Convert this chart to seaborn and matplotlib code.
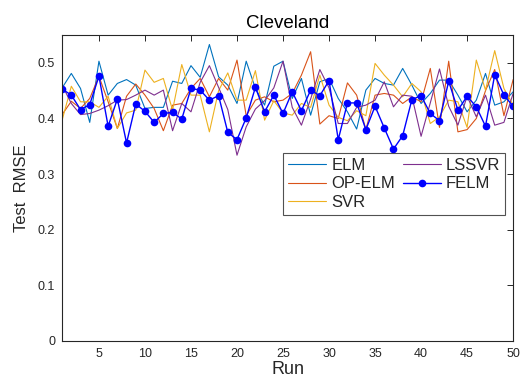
import numpy as np
import pandas as pd
import matplotlib
matplotlib.use("Agg")
import matplotlib.pyplot as plt
import seaborn as sns

runs = list(range(1, 51))

elm = [0.455, 0.481, 0.454, 0.393, 0.503, 0.442, 0.463, 0.470, 0.460, 0.418,
       0.420, 0.420, 0.467, 0.463, 0.495, 0.474, 0.533, 0.475, 0.460, 0.427,
       0.503, 0.454, 0.424, 0.494, 0.503, 0.436, 0.472, 0.406, 0.466, 0.472,
       0.436, 0.412, 0.381, 0.451, 0.472, 0.463, 0.460, 0.490, 0.460, 0.427,
       0.445, 0.469, 0.469, 0.442, 0.412, 0.433, 0.481, 0.424, 0.430, 0.448]

op_elm = [0.407, 0.431, 0.418, 0.436, 0.476, 0.430, 0.382, 0.440, 0.462, 0.442,
          0.418, 0.378, 0.424, 0.427, 0.454, 0.472, 0.439, 0.472, 0.451, 0.505,
          0.405, 0.433, 0.439, 0.430, 0.433, 0.445, 0.478, 0.520, 0.390, 0.405,
          0.400, 0.464, 0.442, 0.380, 0.442, 0.445, 0.442, 0.427, 0.439, 0.430,
          0.490, 0.384, 0.503, 0.376, 0.380, 0.400, 0.450, 0.488, 0.405, 0.470]

svr = [0.397, 0.458, 0.430, 0.430, 0.420, 0.440, 0.382, 0.410, 0.415, 0.487,
       0.465, 0.472, 0.415, 0.497, 0.442, 0.442, 0.376, 0.450, 0.482, 0.433,
       0.433, 0.486, 0.397, 0.432, 0.410, 0.406, 0.427, 0.420, 0.478, 0.424,
       0.402, 0.396, 0.414, 0.405, 0.499, 0.478, 0.460, 0.439, 0.463, 0.448,
       0.391, 0.403, 0.433, 0.430, 0.384, 0.505, 0.451, 0.522, 0.454, 0.424]

lssvr = [0.460, 0.427, 0.407, 0.409, 0.415, 0.423, 0.433, 0.434, 0.442, 0.451,
         0.442, 0.451, 0.378, 0.427, 0.412, 0.465, 0.495, 0.456, 0.416, 0.334,
         0.385, 0.417, 0.432, 0.455, 0.503, 0.420, 0.388, 0.435, 0.488, 0.455,
         0.391, 0.391, 0.420, 0.424, 0.433, 0.466, 0.421, 0.442, 0.440, 0.368,
         0.428, 0.489, 0.422, 0.388, 0.440, 0.403, 0.442, 0.388, 0.393, 0.445]

felm = [0.453, 0.442, 0.416, 0.425, 0.476, 0.386, 0.435, 0.356, 0.426, 0.413,
        0.393, 0.409, 0.411, 0.399, 0.454, 0.451, 0.433, 0.441, 0.375, 0.362,
        0.401, 0.456, 0.412, 0.442, 0.409, 0.448, 0.414, 0.451, 0.441, 0.468,
        0.362, 0.428, 0.428, 0.380, 0.422, 0.383, 0.345, 0.369, 0.434, 0.441,
        0.409, 0.396, 0.467, 0.415, 0.440, 0.421, 0.386, 0.479, 0.442, 0.422]

series_names = ["ELM", "OP-ELM", "SVR", "LSSVR", "FELM"]
series_values = [elm, op_elm, svr, lssvr, felm]
colors = ["#0072BD", "#D95319", "#EDB120", "#7E2F8E", "#0000FF"]

x_ticks = [5, 10, 15, 20, 25, 30, 35, 40, 45, 50]
y_ticks = [0, 0.1, 0.2, 0.3, 0.4, 0.5]
y_tick_labels = ["0", "0.1", "0.2", "0.3", "0.4", "0.5"]

sns.set_style("white")
plt.rcParams["font.family"] = ["Liberation Sans", "DejaVu Sans"]

fig = plt.figure(figsize=(5.22, 3.81), dpi=100)
ax = fig.add_axes([0.119, 0.105, 0.864, 0.803])

for name, vals, col in zip(series_names, series_values, colors):
    df = pd.DataFrame({"Run": runs, "RMSE": vals})
    if name == "FELM":
        sns.lineplot(data=df, x="Run", y="RMSE", ax=ax, color=col, lw=1.0,
                     marker="o", markersize=5.5, markeredgewidth=0, label=name)
    else:
        sns.lineplot(data=df, x="Run", y="RMSE", ax=ax, color=col, lw=0.8,
                     label=name)

ax.set_xlim(1, 50)
ax.set_ylim(0, 0.55)
ax.set_xticks(x_ticks)
ax.set_yticks(y_ticks)
ax.set_yticklabels(y_tick_labels)
ax.tick_params(direction="in", top=True, right=True, length=4, width=0.7,
               labelsize=9, colors="#262626", pad=5)
for sp in ax.spines.values():
    sp.set_visible(True)
    sp.set_color("#262626")
    sp.set_linewidth(0.8)

ax.set_title("Cleveland", fontsize=13.5, color="#000000", pad=5)
ax.set_xlabel("Run", fontsize=13, color="#262626", labelpad=1)
ax.set_ylabel("Test  RMSE", fontsize=12, color="#262626", labelpad=6)

leg = ax.legend(loc="upper left", bbox_to_anchor=(0.49, 0.614), ncol=2,
                fontsize=12, frameon=True, fancybox=False, handlelength=2.3,
                borderpad=0.3, labelspacing=0.2, columnspacing=0.45,
                handletextpad=0.3, borderaxespad=0)
leg.get_frame().set_edgecolor("#262626")
leg.get_frame().set_linewidth(0.8)

fig.savefig("out.png", dpi=100)
